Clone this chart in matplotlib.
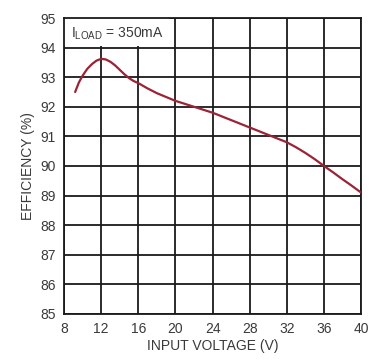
import matplotlib.pyplot as plt
from matplotlib.patches import Rectangle

# Efficiency vs input voltage, ILOAD = 350mA
vin = [9.2, 9.6, 10, 10.5, 11, 11.5, 12, 12.5, 13, 13.5, 14, 14.5, 15, 15.5, 16,
       17, 18, 19, 20, 22, 24, 26, 28, 30, 32, 33, 34, 35, 36, 37, 38, 39, 40]
eff = [92.5, 92.82, 93.05, 93.28, 93.44, 93.56, 93.62, 93.6, 93.52, 93.4, 93.25,
       93.1, 92.97, 92.87, 92.8, 92.62, 92.46, 92.33, 92.2, 92.0, 91.8, 91.55,
       91.3, 91.05, 90.8, 90.63, 90.44, 90.23, 90.0, 89.78, 89.55, 89.33, 89.1]

x_ticks = [8, 12, 16, 20, 24, 28, 32, 36, 40]
y_ticks = list(range(85, 96))

txt = '#3a3a3a'
plt.rcParams['font.family'] = ['Liberation Sans Narrow', 'Liberation Sans', 'DejaVu Sans']

fig = plt.figure(figsize=(3.7, 3.6), dpi=100)
ax = fig.add_axes([0.173, 0.128, 0.803, 0.822])

ax.plot(vin, eff, color='#9b2335', linewidth=1.6, zorder=3,
        solid_joinstyle='round', solid_capstyle='round')

ax.set_xlim(8, 40)
ax.set_ylim(85, 95)
ax.set_xticks(x_ticks)
ax.set_yticks(y_ticks)
ax.tick_params(length=0, labelsize=10, colors=txt, pad=6)
ax.grid(True, color='#1a1a1a', linewidth=1.3, zorder=1)
ax.set_axisbelow(True)
for s in ax.spines.values():
    s.set_color('#1a1a1a')
    s.set_linewidth(1.3)

# label box
ax.add_patch(Rectangle((8, 94.05), 11.3, 0.95, facecolor='white', edgecolor='none', zorder=2))
ax.text(8.8, 94.35, r'I$_{\mathregular{LOAD}}$ = 350mA', fontsize=10, color=txt, zorder=4)

ax.set_xlabel('INPUT VOLTAGE (V)', fontsize=10, color=txt, labelpad=2)
ax.set_ylabel('EFFICIENCY (%)', fontsize=10, color=txt, labelpad=4)

fig.savefig('out.png', dpi=100)
